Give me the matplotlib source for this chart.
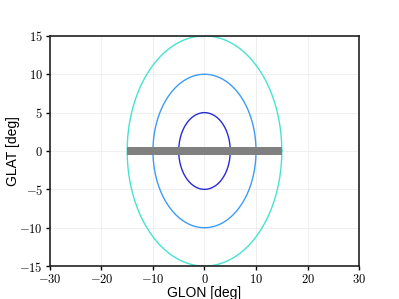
import numpy as np
import matplotlib
matplotlib.use("Agg")
import matplotlib.pyplot as plt
from matplotlib.ticker import FuncFormatter

plt.rcParams['mathtext.fontset'] = 'cm'

radii = [5, 10, 15]
colors = ['#2b2bd6', '#3d9bf5', '#45e3d3']
band_lon = [-15, 15]
band_lat = [-0.5, 0.5]
xticks = [-30, -20, -10, 0, 10, 20, 30]
yticks = [-15, -10, -5, 0, 5, 10, 15]

fig = plt.figure(figsize=(3.99, 2.99), dpi=100)
ax = fig.add_axes([0.125, 0.11, 0.775, 0.77])

theta = np.linspace(0, 2 * np.pi, 400)
for r, c in zip(radii, colors):
    ax.plot(r * np.cos(theta), r * np.sin(theta), color=c, lw=1.0, zorder=2)

ax.fill_between(band_lon, band_lat[0], band_lat[1], color='#808080', lw=0, zorder=3)

ax.set_xlim(-30, 30)
ax.set_ylim(-15, 15)
ax.set_xticks(xticks)
ax.set_yticks(yticks)
fmt = FuncFormatter(lambda v, p: r'$%d$' % v)
ax.xaxis.set_major_formatter(fmt)
ax.yaxis.set_major_formatter(fmt)
ax.tick_params(labelsize=9, direction='out', length=3, width=1, pad=2)
ax.grid(True, color='#ececec', lw=0.6)
ax.set_axisbelow(True)
for s in ax.spines.values():
    s.set_linewidth(1.2)
    s.set_color('#222222')
ax.set_xlabel('GLON [deg]', fontsize=10, family='Liberation Sans')
ax.set_ylabel('GLAT [deg]', fontsize=10, family='Liberation Sans')
ax.xaxis.set_label_coords(0.5, -0.085)
ax.yaxis.set_label_coords(-0.095, 0.5)

fig.savefig('out.png', dpi=100)
